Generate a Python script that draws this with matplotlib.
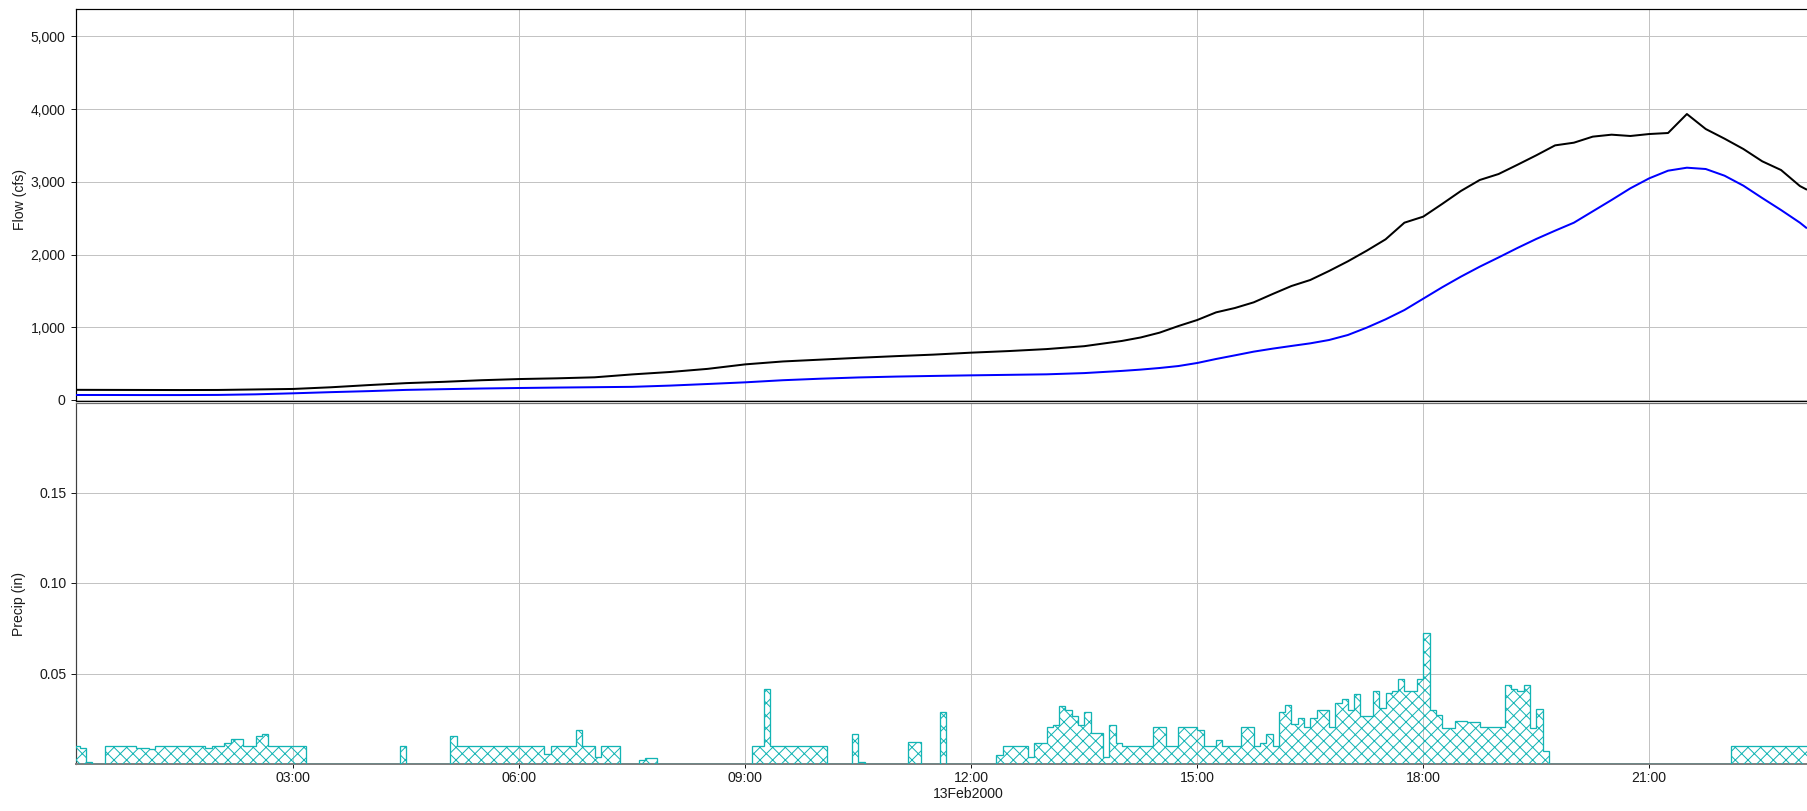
import matplotlib
matplotlib.use("Agg")
import matplotlib.pyplot as plt
import numpy as np
from matplotlib.ticker import FixedLocator, FuncFormatter

# ---------------- data ----------------
# Flow hydrographs (time in hours after 13Feb2000 00:00, cfs)
flow_hours = [0.0, 0.5, 1.0, 1.5, 2.0, 2.5, 3.0, 3.5, 4.0, 4.5, 5.0, 5.5, 6.0, 6.5,
              7.0, 7.5, 8.0, 8.5, 9.0, 9.5, 10.0, 10.5, 11.0, 11.5, 12.0, 12.5, 13.0,
              13.5, 14.0, 14.25, 14.5, 14.75, 15.0, 15.25, 15.5, 15.75, 16.0, 16.25,
              16.5, 16.75, 17.0, 17.25, 17.5, 17.75, 18.0, 18.25, 18.5, 18.75, 19.0,
              19.25, 19.5, 19.75, 20.0, 20.25, 20.5, 20.75, 21.0, 21.25, 21.5, 21.75,
              22.0, 22.25, 22.5, 22.75, 23.0, 23.083]
flow_black = [140, 139, 138, 137, 138, 145, 152, 175, 205, 232, 250, 272, 288, 298,
              312, 352, 385, 428, 490, 530, 555, 580, 603, 624, 651, 673, 700,
              740, 812, 860, 926, 1017, 1100, 1205, 1265, 1343, 1457, 1567,
              1650, 1774, 1907, 2053, 2209, 2438, 2521, 2695, 2874, 3025, 3107,
              3234, 3364, 3501, 3538, 3621, 3648, 3630, 3657, 3671, 3932, 3726,
              3593, 3451, 3282, 3162, 2942, 2897]
flow_blue = [69, 69, 68, 68, 70, 78, 92, 108, 122, 139, 149, 158, 165, 171,
             176, 181, 198, 220, 243, 272, 293, 310, 322, 331, 339, 346, 353,
             370, 400, 418, 440, 467, 509, 564, 614, 665, 706, 743,
             779, 825, 894, 995, 1109, 1237, 1393, 1549, 1696, 1833, 1960,
             2090, 2214, 2328, 2438, 2594, 2750, 2911, 3048, 3153, 3194, 3176,
             3084, 2947, 2777, 2612, 2438, 2369]

# 5-minute precipitation (in), first interval 00:05-00:10, one row per hour
precip_start_hour = 5 / 60
precip = [
    0.0101, 0.0086, 0.0013, 0, 0, 0.0101, 0.0101, 0.0101, 0.0101, 0.0101, 0.0088,           # 00
    0.0088, 0.0083, 0.0101, 0.0101, 0.0101, 0.0101, 0.0101, 0.0101, 0.0101, 0.0101, 0.0086, 0.0101,  # 01
    0.0101, 0.0114, 0.0138, 0.0138, 0.0101, 0.0101, 0.0156, 0.0164, 0.0101, 0.0101, 0.0101, 0.0101,  # 02
    0.0101, 0.0101, 0, 0, 0, 0, 0, 0, 0, 0, 0, 0,                                          # 03
    0, 0, 0, 0, 0, 0.0101, 0, 0, 0, 0, 0, 0,                                               # 04
    0, 0.0156, 0.0101, 0.0101, 0.0101, 0.0101, 0.0101, 0.0101, 0.0101, 0.0101, 0.0101, 0.0101,  # 05
    0.0101, 0.0101, 0.0101, 0.0101, 0.0055, 0.0101, 0.0101, 0.0101, 0.0101, 0.0188, 0.0101, 0.0101,  # 06
    0.0037, 0.0101, 0.0101, 0.0101, 0, 0, 0, 0.0022, 0.0035, 0.0035, 0, 0,                  # 07
    0, 0, 0, 0, 0, 0, 0, 0, 0, 0, 0, 0,                                                    # 08
    0, 0.0101, 0.0101, 0.0414, 0.0101, 0.0101, 0.0101, 0.0101, 0.0101, 0.0101, 0.0101, 0.0101,  # 09
    0.0101, 0, 0, 0, 0, 0.0164, 0.0013, 0, 0, 0, 0, 0,                                     # 10
    0, 0, 0.0123, 0.0123, 0, 0, 0, 0.0285, 0, 0, 0, 0,                                     # 11
    0, 0, 0, 0, 0.0050, 0.0101, 0.0101, 0.0101, 0.0101, 0.0037, 0.0116, 0.0116,            # 12
    0.0202, 0.0213, 0.0318, 0.0301, 0.0267, 0.0213, 0.0287, 0.0171, 0.0171, 0.0037, 0.0213, 0.0116,  # 13
    0.0101, 0.0101, 0.0101, 0.0101, 0.0101, 0.0202, 0.0202, 0.0101, 0.0101, 0.0202, 0.0202, 0.0202,  # 14
    0.0188, 0.0101, 0.0101, 0.0134, 0.0101, 0.0101, 0.0101, 0.0204, 0.0204, 0.0101, 0.0114, 0.0164,  # 15
    0.0101, 0.0287, 0.0327, 0.0219, 0.0254, 0.0202, 0.0256, 0.0301, 0.0301, 0.0202, 0.0338, 0.0357,  # 16
    0.0301, 0.0384, 0.0263, 0.0263, 0.0401, 0.0307, 0.0390, 0.0403, 0.0472, 0.0403, 0.0403, 0.0467,  # 17
    0.0721, 0.0301, 0.0268, 0.0200, 0.0200, 0.0235, 0.0235, 0.0233, 0.0233, 0.0202, 0.0202, 0.0202,  # 18
    0.0202, 0.0434, 0.0414, 0.0404, 0.0434, 0.0200, 0.0305, 0.0070, 0, 0, 0, 0,            # 19
    0, 0, 0, 0, 0, 0, 0, 0, 0, 0, 0, 0,                                                    # 20
    0, 0, 0, 0, 0, 0, 0, 0, 0, 0, 0, 0,                                                    # 21
    0, 0.0101, 0.0101, 0.0101, 0.0101, 0.0101, 0.0101, 0.0101, 0.0101, 0.0101, 0.0101, 0.0101,  # 22
    0.0101, 0.0101,                                                                         # 23
]

x_tick_hours = [3, 6, 9, 12, 15, 18, 21]
x_tick_labels = ["03:00", "06:00", "09:00", "12:00", "15:00", "18:00", "21:00"]
flow_ticks = [0, 1000, 2000, 3000, 4000, 5000]
precip_ticks = [0.05, 0.10, 0.15]
precip_tick_labels = ["0.05", "0.10", "0.15"]

# ---------------- style ----------------
DPI = 76
W, H = 1807, 811
PT = 72.0 / DPI  # points per pixel
FS = 14 * PT
plt.rcParams["font.family"] = ["Liberation Sans", "DejaVu Sans"]
plt.rcParams["font.size"] = FS
plt.rcParams["hatch.linewidth"] = 1.0 * PT

CYAN = "#12B4B4"
GRID = "#C3C3C3"
TXT = "#1a1a1a"

fig = plt.figure(figsize=(W / DPI, H / DPI), dpi=DPI)


def px_axes(l, t, r, b):
    return [l / W, 1 - b / H, (r - l) / W, (b - t) / H]


X0_PX, PX_PER_H = 67.3, 75.33
LEFT, RIGHT = 76.3, 1860.0
xlim = ((LEFT - X0_PX) / PX_PER_H, (RIGHT - X0_PX) / PX_PER_H)

ax1 = fig.add_axes(px_axes(LEFT, 9.3, RIGHT, 400.7))
ax2 = fig.add_axes(px_axes(LEFT, 403.3, RIGHT, 764.0))

# ---- flow panel ----
ax1.plot(flow_hours, flow_blue, color="#0000FF", lw=2 * PT, zorder=3)
ax1.plot(flow_hours, flow_black, color="#000000", lw=2 * PT, zorder=3)
ax1.set_xlim(*xlim)
ax1.set_ylim(-0.7 / 0.07273, (400 - 9.3) / 0.07273)
ax1.yaxis.set_major_locator(FixedLocator(flow_ticks))
ax1.yaxis.set_major_formatter(FuncFormatter(lambda v, p: f"{v:,.0f}"))
ax1.xaxis.set_major_locator(FixedLocator(x_tick_hours))
ax1.tick_params(axis="x", length=0, labelbottom=False)
ax1.tick_params(axis="y", direction="out", length=5 * PT, width=1 * PT,
                pad=6 * PT, labelsize=FS, colors=TXT)
ax1.grid(True, color=GRID, lw=1 * PT)
ax1.set_axisbelow(True)
for s in ["top", "left", "bottom"]:
    ax1.spines[s].set_color("black")
    ax1.spines[s].set_linewidth(1.2 * PT)
ax1.spines["right"].set_visible(False)
ax1.set_ylabel("Flow (cfs)", fontsize=FS, color=TXT)
lab = ax1.yaxis.label
lab.set_rotation_mode("default")
lab.set_verticalalignment("center")
lab.set_horizontalalignment("center")
ax1.yaxis.set_label_coords((19.7 - LEFT) / (RIGHT - LEFT), (400.7 - 199) / (400.7 - 9.3))

# ---- precip panel ----
edges = precip_start_hour + np.arange(len(precip) + 1) * (5 / 60)
ax2.stairs(precip, edges, baseline=0, fill=True, facecolor="none",
           edgecolor=CYAN, hatch="xx", linewidth=1.3 * PT, zorder=3)
ax2.set_xlim(*xlim)
ax2.set_ylim(0, (764 - 403.3) / 1810)
ax2.xaxis.set_major_locator(FixedLocator(x_tick_hours))
ax2.set_xticklabels(x_tick_labels)
ax2.yaxis.set_major_locator(FixedLocator(precip_ticks))
ax2.set_yticklabels(precip_tick_labels)
ax2.tick_params(axis="x", direction="out", length=4 * PT, width=1 * PT,
                pad=3 * PT, labelsize=FS, colors=TXT)
ax2.tick_params(axis="y", direction="out", length=5 * PT, width=1 * PT,
                pad=4.5 * PT, labelsize=FS, colors=TXT)
ax2.grid(True, color=GRID, lw=1 * PT)
ax2.set_axisbelow(True)
ax2.spines["top"].set_color("#6e6e6e")
ax2.spines["top"].set_linewidth(1.2 * PT)
ax2.spines["left"].set_color("#404040")
ax2.spines["left"].set_linewidth(1.2 * PT)
ax2.spines["bottom"].set_color("#808080")
ax2.spines["bottom"].set_linewidth(2 * PT)
ax2.spines["right"].set_visible(False)
ax2.set_xlabel("13Feb2000", fontsize=FS, color=TXT, labelpad=2 * PT)
ax2.set_ylabel("Precip (in)", fontsize=FS, color=TXT)
lab2 = ax2.yaxis.label
lab2.set_rotation_mode("default")
lab2.set_verticalalignment("center")
lab2.set_horizontalalignment("center")
ax2.yaxis.set_label_coords((18.8 - LEFT) / (RIGHT - LEFT), (764 - 604) / (764 - 403.3))

fig.savefig("out.png", dpi=DPI)
